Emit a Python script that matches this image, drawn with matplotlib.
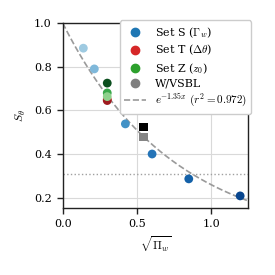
import numpy as np
import matplotlib
matplotlib.use("Agg")
import matplotlib.pyplot as plt
from matplotlib.lines import Line2D

plt.rcParams['font.family'] = 'DejaVu Serif'
plt.rcParams['mathtext.fontset'] = 'cm'
plt.rcParams['font.size'] = 8

# Set S (Gamma_w)
s_x = [0.139, 0.213, 0.422, 0.602, 0.849, 1.195]
s_y = [0.885, 0.790, 0.538, 0.400, 0.286, 0.208]
s_col = ['#9ecae1', '#7fb8da', '#4292c6', '#2474b7', '#1461a8', '#08468f']

# Set T (Delta theta)
t_x = [0.300, 0.300]
t_y = [0.645, 0.650]
t_col = ['#9e1b1f', '#e0393a']

# Set Z (z0)
z_x = [0.300, 0.300, 0.300]
z_y = [0.725, 0.680, 0.663]
z_col = ['#0b4f1e', '#3aa84a', '#8fd18c']

# W/VSBL
w_x = [0.543, 0.543]
w_y = [0.523, 0.477]
w_col = ['#000000', '#858585']

fit_k = 1.35
fit_r2 = 0.972
hline_y = 0.31

fig = plt.figure(figsize=(2.75, 2.75), dpi=100)
ax = fig.add_axes([0.228, 0.244, 0.675, 0.672])

ax.grid(True, color='#d9d9d9', lw=0.8, zorder=0)
ax.set_axisbelow(True)
for sp in ax.spines.values():
    sp.set_linewidth(1.0)
    sp.set_color('#222222')
ax.tick_params(length=4.5, width=1.0, color='#222222')

xx = np.linspace(0, 1.25, 200)
ax.plot(xx, np.exp(-fit_k * xx), ls='--', color='#9a9a9a', lw=1.2, zorder=1)
ax.axhline(hline_y, ls=':', color='#a0a0a0', lw=1.0, zorder=1)

ax.scatter(s_x, s_y, c=s_col, s=40, zorder=3, linewidths=0)
ax.scatter(z_x, z_y, c=z_col, s=40, zorder=3, linewidths=0)
ax.scatter(t_x[::-1], t_y[::-1], c=t_col[::-1], s=40, zorder=2, linewidths=0)
ax.scatter(w_x, w_y, c=w_col, s=38, marker='s', zorder=3, linewidths=0)

ax.set_xlim(0, 1.25)
ax.set_ylim(0.153, 1.0)
ax.set_xticks([0.0, 0.5, 1.0])
ax.set_yticks([0.2, 0.4, 0.6, 0.8, 1.0])
ax.set_xlabel(r'$\sqrt{\Pi_w}$', fontsize=8.5)
ax.set_ylabel(r'$S_\theta$', fontsize=8.5)

handles = [
    Line2D([], [], marker='o', ls='', color='#1f77b4', markersize=6),
    Line2D([], [], marker='o', ls='', color='#d62728', markersize=6),
    Line2D([], [], marker='o', ls='', color='#2ca02c', markersize=6),
    Line2D([], [], marker='o', ls='', color='#7f7f7f', markersize=6),
    Line2D([], [], ls='--', color='#9a9a9a', lw=1.2),
]
labels = [r'Set S ($\Gamma_w$)', r'Set T ($\Delta\theta$)', r'Set Z ($z_0$)',
          'W/VSBL', r'$e^{-%.2fx}$ $(r^2 = %.3f)$' % (fit_k, fit_r2)]
ax.legend(handles, labels, loc='upper right', bbox_to_anchor=(1.045, 1.045),
          fontsize=8, handlelength=2.0, borderpad=0.4, labelspacing=0.3,
          handletextpad=0.75, framealpha=1.0)

fig.savefig('out.png', dpi=100)
